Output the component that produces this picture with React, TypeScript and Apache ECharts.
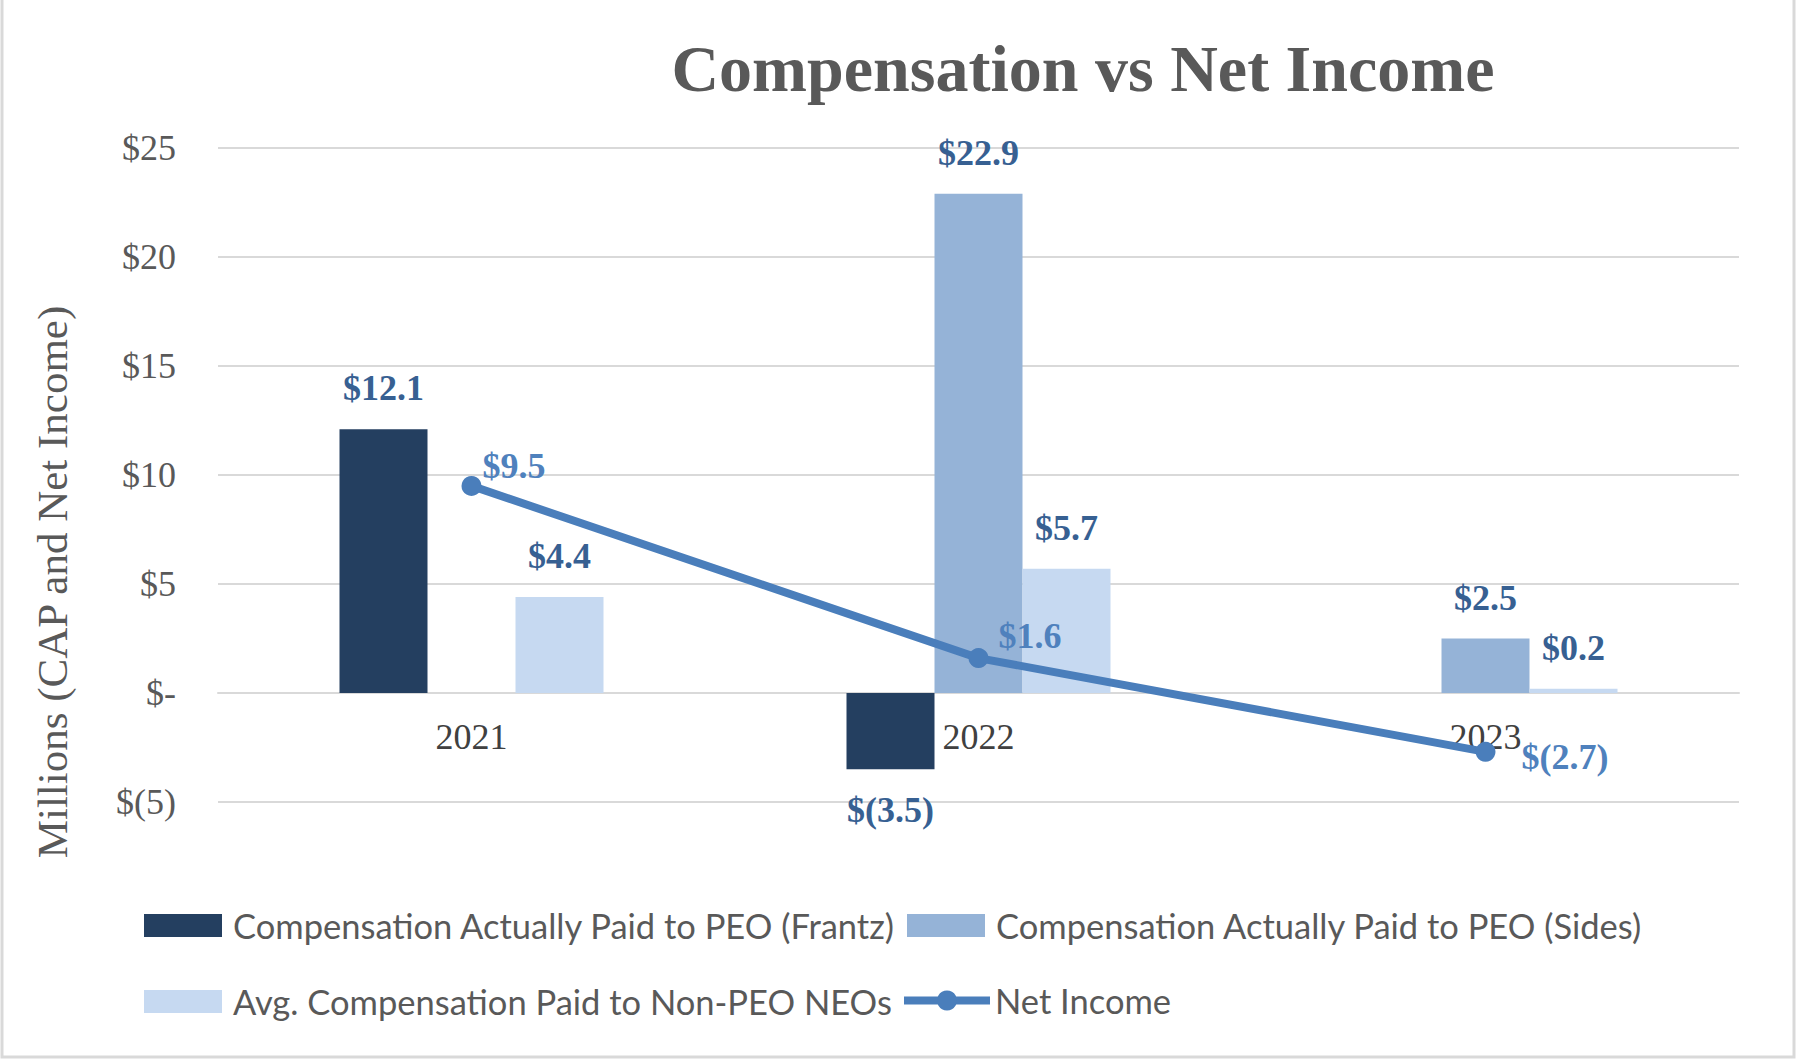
import React, { useEffect, useRef } from "react";
import * as echarts from "echarts";

const years = ["2021", "2022", "2023"];
const capFrantz: (number | null)[] = [12.1, -3.5, null];
const capSides: (number | null)[] = [null, 22.9, 2.5];
const avgNonPeo: (number | null)[] = [4.4, 5.7, 0.2];
const netIncome: number[] = [9.5, 1.6, -2.7];

const seriesNames = [
  "Compensation Actually Paid to PEO (Frantz)",
  "Compensation Actually Paid to PEO (Sides)",
  "Avg. Compensation Paid to Non-PEO NEOs",
  "Net Income",
];
const titleText = "Compensation vs Net Income";
const yAxisTitle = "Millions (CAP and Net Income)";
const yMin = -5;
const yMax = 25;
const yStep = 5;

// label offsets for the net income points (style only)
const netLabelOffsets = [
  [-4, -20],
  [5, -22],
  [21, 5],
];

const SERIF = '"Liberation Serif", "Times New Roman", serif';
const SANS = 'Lato, "Open Sans", sans-serif';

const money = (v: number) =>
  v < 0 ? `$(${Math.abs(v).toFixed(1)})` : `$${v.toFixed(1)}`;

const tickFmt = (v: number) => {
  if (v === 0) return "$-";
  if (v < 0) return `$(${Math.abs(v)})`;
  return `$${v}`;
};

function barData(arr: (number | null)[]) {
  return arr.map((v) =>
    v === null
      ? null
      : {
          value: v,
          label: { position: v < 0 ? "bottom" : "top" },
        }
  );
}

export default function App() {
  const ref = useRef<HTMLDivElement>(null);
  useEffect(() => {
    document.body.style.margin = "0";
    if (!ref.current) return;
    const chart = echarts.init(ref.current, null, { renderer: "svg" });
    const gridTop = 148;
    const gridBottom = 258;
    const plotH = 1060 - gridTop - gridBottom;
    // distance from grid bottom (value yMin) up to the zero line
    const zeroOffset = (plotH * (0 - yMin)) / (yMax - yMin);

    const barLabel = {
      show: true,
      distance: 23,
      fontFamily: SERIF,
      fontSize: 36,
      fontWeight: "bold",
      color: "#376092",
      formatter: (p: any) => money(p.value),
    };
    const barCommon = {
      type: "bar",
      barWidth: 88,
      barGap: "0%",
      label: barLabel,
    };
    const legendCommon = {
      itemWidth: 78,
      itemHeight: 23,
      icon: "rect",
      textStyle: {
        fontFamily: SANS,
        fontSize: 34.5,
        color: "#595959",
        padding: [0, 0, 0, 6],
      },
      selectedMode: false,
      padding: 0,
    };
    chart.setOption({
      animation: false,
      backgroundColor: "#ffffff",
      grid: { left: 218, right: 58, top: gridTop, bottom: gridBottom, containLabel: false },
      legend: [
        { ...legendCommon, left: 144, top: 908, data: [seriesNames[0]] },
        { ...legendCommon, left: 907, top: 908, data: [seriesNames[1]] },
        { ...legendCommon, left: 144, top: 984, data: [seriesNames[2]] },
        {
          ...legendCommon,
          icon: undefined,
          itemWidth: 86,
          itemHeight: 25,
          left: 900,
          top: 983,
          lineStyle: { width: 8 },
          textStyle: { ...legendCommon.textStyle, padding: [0, 0, 0, 0] },
          data: [seriesNames[3]],
        },
      ],
      xAxis: {
        type: "category",
        data: years,
        position: "bottom",
        offset: -zeroOffset,
        axisTick: { show: false },
        axisLine: { show: true, onZero: false, lineStyle: { color: "#d9d9d9", width: 2 } },
        axisLabel: {
          fontFamily: SERIF,
          fontSize: 36,
          color: "#404040",
          margin: 26,
        },
      },
      yAxis: {
        type: "value",
        min: yMin,
        max: yMax,
        interval: yStep,
        axisLine: { show: false },
        axisTick: { show: false },
        splitLine: { lineStyle: { color: "#d9d9d9", width: 2 } },
        axisLabel: {
          fontFamily: SERIF,
          fontSize: 36,
          color: "#595959",
          margin: 42,
          formatter: tickFmt,
        },
      },
      graphic: [
        {
          type: "text",
          x: 1083,
          y: 68,
          style: {
            text: titleText,
            fontFamily: SERIF,
            fontSize: 66,
            fontWeight: "bold",
            fill: "#595959",
            textAlign: "center",
            textVerticalAlign: "middle",
          },
        },
        {
          type: "text",
          x: 52,
          y: 582,
          rotation: Math.PI / 2,
          style: {
            text: yAxisTitle,
            fontFamily: SERIF,
            fontSize: 43,
            fill: "#595959",
            textAlign: "center",
            textVerticalAlign: "middle",
          },
        },
        {
          type: "polyline",
          shape: {
            points: [
              [2, 0],
              [2, 1057],
              [1794, 1057],
              [1794, 0],
            ],
          },
          style: { stroke: "#d9d9d9", lineWidth: 3, fill: "none" },
        },
      ],
      series: [
        {
          ...barCommon,
          name: seriesNames[0],
          itemStyle: { color: "#243F60" },
          data: barData(capFrantz),
        },
        {
          ...barCommon,
          name: seriesNames[1],
          itemStyle: { color: "#95B3D7" },
          data: barData(capSides),
        },
        {
          ...barCommon,
          name: seriesNames[2],
          itemStyle: { color: "#C6D9F1" },
          data: barData(avgNonPeo),
        },
        {
          type: "line",
          name: seriesNames[3],
          symbol: "circle",
          symbolSize: 20,
          lineStyle: { color: "#4A7EBB", width: 8 },
          itemStyle: { color: "#4A7EBB" },
          z: 5,
          label: {
            show: true,
            position: "right",
            fontFamily: SERIF,
            fontSize: 36,
            fontWeight: "bold",
            color: "#4F81BD",
            formatter: (p: any) => money(p.value),
          },
          data: netIncome.map((v, i) => ({
            value: v,
            label: { offset: netLabelOffsets[i] },
          })),
        },
      ],
    });
    return () => chart.dispose();
  }, []);
  return (
    <div
      ref={ref}
      style={{ position: "absolute", left: 0, top: 0, width: 1797, height: 1060 }}
    />
  );
}
